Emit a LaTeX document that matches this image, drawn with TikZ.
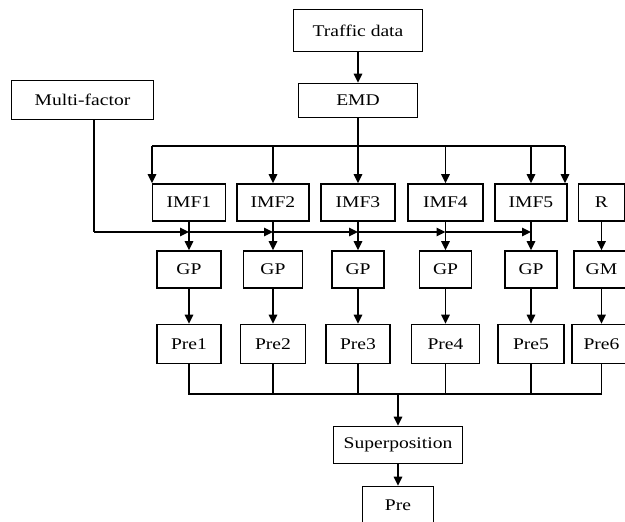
\documentclass[tikz,border=0pt]{standalone}
\usepackage{fontspec}
\setmainfont[FakeStretch=1.2]{Liberation Serif}
\usetikzlibrary{arrows.meta,calc}
\tikzset{
 flowchart/.style={x=1pt,y=-1pt,line join=miter},
 stage/.style={draw=black,line width=1.6pt,inner sep=0pt,minimum height=37pt,
   font=\fontsize{16.3}{19}\selectfont},
 wire/.style={draw=black,line width=1.6pt},
 feed/.style={wire,-{Triangle[length=9pt,width=8.5pt]}}
}

\begin{document}
\begin{tikzpicture}[flowchart]
 \useasboundingbox (0,0) rectangle (625,522);
 \clip (0,0) rectangle (625,522);
 \node[stage,minimum width=129pt,minimum height=42pt] (traffic) at (358,30.5) {Traffic data};
 \node[stage,minimum width=119pt,minimum height=34pt] (emd) at (358,100.5) {EMD};
 \node[stage,minimum width=142pt,minimum height=39pt] (multi) at (82.5,100) {Multi-factor};
 \node[stage,minimum width=73pt] (imf1) at (189,202.5) {IMF1};
 \node[stage,minimum width=72pt] (imf2) at (273,202.5) {IMF2};
 \node[stage,minimum width=74pt] (imf3) at (358,202.5) {IMF3};
 \node[stage,minimum width=75pt] (imf4) at (445.5,202.5) {IMF4};
 \node[stage,minimum width=72pt] (imf5) at (531,202.5) {IMF5};
 \node[stage,minimum width=46pt] (res) at (601.5,202.5) {R};
 \node[stage,minimum width=64pt] (gp1) at (189,269.5) {GP};
 \node[stage,minimum width=59pt] (gp2) at (273,269.5) {GP};
 \node[stage,minimum width=52pt] (gp3) at (358,269.5) {GP};
 \node[stage,minimum width=52pt] (gp4) at (445.5,269.5) {GP};
 \node[stage,minimum width=52pt] (gp5) at (531,269.5) {GP};
 \node[stage,minimum width=55pt] (gm) at (601.5,269.5) {GM};
 \node[stage,minimum width=64pt,minimum height=39pt] (pre1) at (189,344) {Pre1};
 \node[stage,minimum width=65pt,minimum height=39pt] (pre2) at (273,344) {Pre2};
 \node[stage,minimum width=64pt,minimum height=39pt] (pre3) at (358,344) {Pre3};
 \node[stage,minimum width=68pt,minimum height=39pt] (pre4) at (445.5,344) {Pre4};
 \node[stage,minimum width=66pt,minimum height=39pt] (pre5) at (531,344) {Pre5};
 \node[stage,minimum width=59pt,minimum height=39pt] (pre6) at (601.5,344) {Pre6};
 \node[stage,minimum width=129pt] (sup) at (398,445) {Superposition};
 \node[stage,minimum width=71pt] (final) at (398,505) {Pre};
 \coordinate (busL) at (152,146);
 \coordinate (busR) at (565,146);
 \coordinate (mfBus) at (94,232);
 \coordinate (sum) at (398,394);
 \draw[feed] (traffic) -- (emd);
 \draw[wire] (emd) -- (emd |- busL);
 \draw[wire] (busL) -- (busR);
 \draw[feed] (busL) -- (busL |- imf1.north);
 \draw[feed] (imf2 |- busL) -- (imf2);
 \draw[feed] (imf3 |- busL) -- (imf3);
 \draw[feed] (imf4 |- busL) -- (imf4);
 \draw[feed] (imf5 |- busL) -- (imf5);
 \draw[feed] (busR) -- (busR |- imf5.north);
 \draw[wire] (multi.south -| mfBus) -- (mfBus);
 \draw[feed] (mfBus) -- (mfBus -| imf1);
 \draw[feed] (mfBus -| imf1) -- (mfBus -| imf2);
 \draw[feed] (mfBus -| imf2) -- (mfBus -| imf3);
 \draw[feed] (mfBus -| imf3) -- (mfBus -| imf4);
 \draw[feed] (mfBus -| imf4) -- (mfBus -| imf5);
 \draw[feed] (imf1) -- (gp1);
 \draw[feed] (imf2) -- (gp2);
 \draw[feed] (imf3) -- (gp3);
 \draw[feed] (imf4) -- (gp4);
 \draw[feed] (imf5) -- (gp5);
 \draw[feed] (res) -- (gm);
 \draw[feed] (gp1) -- (pre1);
 \draw[feed] (gp2) -- (pre2);
 \draw[feed] (gp3) -- (pre3);
 \draw[feed] (gp4) -- (pre4);
 \draw[feed] (gp5) -- (pre5);
 \draw[feed] (gm) -- (pre6);
 \draw[wire] (pre1) -- (pre1 |- sum) -- (pre6 |- sum) -- (pre6);
 \draw[wire] (pre2) -- (pre2 |- sum);
 \draw[wire] (pre3) -- (pre3 |- sum);
 \draw[wire] (pre4) -- (pre4 |- sum);
 \draw[wire] (pre5) -- (pre5 |- sum);
 \draw[feed] (sum) -- (sup);
 \draw[feed] (sup) -- (final);
\end{tikzpicture}
\end{document}
